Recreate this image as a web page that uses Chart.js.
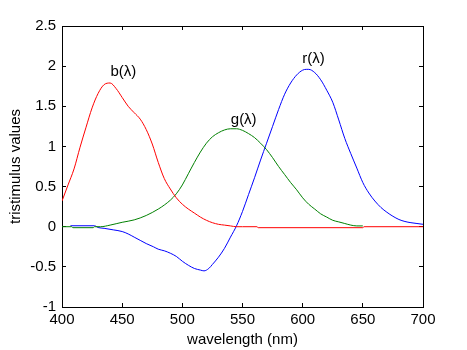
<!DOCTYPE html>
<html>
<head>
<meta charset="utf-8">
<script src="https://cdn.jsdelivr.net/npm/chart.js@4.4.1/dist/chart.umd.min.js"></script>
<style>
  html, body { margin: 0; padding: 0; background: #fff; }
  #wrap { width: 467px; height: 350px; }
</style>
</head>
<body>
<div id="wrap"><canvas id="c" width="467" height="350"></canvas></div>
<script>
// ------- data -------
const bWave = [400, 405, 410, 415, 420, 425, 430, 435, 440, 445, 450, 455, 460, 465, 470, 475, 480, 485, 490, 495,
  500, 505, 510, 515, 520, 525, 530, 535, 540, 545, 550, 562, 563, 650, 651, 700];
const bVals = [0.32, 0.52, 0.72, 0.99, 1.24, 1.48, 1.66, 1.77, 1.79, 1.72, 1.61, 1.50, 1.42, 1.34, 1.21, 1.03, 0.80, 0.60, 0.47, 0.36,
  0.28, 0.22, 0.17, 0.12, 0.08, 0.05, 0.03, 0.02, 0.01, 0.0, 0.0, 0.0, -0.012, -0.012, 0.0, 0.0];

const gWave = [400, 408, 409, 426, 427, 432, 440, 450, 460, 470, 480, 485, 490, 495, 500, 505, 510, 515, 520, 525,
  530, 535, 540, 545, 550, 555, 560, 565, 570, 575, 580, 585, 590, 595, 600, 605, 610, 615, 620, 625,
  630, 635, 640, 645, 650];
const gVals = [0.0, 0.0, -0.012, -0.012, 0.0, 0.0, 0.02, 0.055, 0.085, 0.14, 0.22, 0.27, 0.33, 0.41, 0.52, 0.66, 0.80, 0.93, 1.04, 1.12,
  1.17, 1.205, 1.22, 1.22, 1.20, 1.16, 1.11, 1.04, 0.96, 0.86, 0.75, 0.65, 0.55, 0.46, 0.36, 0.28, 0.22, 0.16, 0.12, 0.08,
  0.06, 0.04, 0.02, 0.01, 0.01];

const rWave = [407, 427, 430, 435, 443, 450, 455, 460, 465, 470, 476, 480, 485, 490, 495, 500, 505, 510, 515, 518,
  522, 525, 530, 535, 540, 545, 550, 555, 560, 565, 570, 575, 580, 585, 590, 595, 600, 603, 605, 610,
  615, 620, 625, 630, 635, 640, 645, 650, 655, 660, 665, 670, 675, 680, 685, 690, 695, 700];
const rVals = [0.012, 0.012, -0.01, -0.02, -0.04, -0.06, -0.09, -0.13, -0.17, -0.21, -0.25, -0.28, -0.30, -0.33, -0.37, -0.43, -0.48, -0.52, -0.54, -0.55,
  -0.52, -0.47, -0.38, -0.27, -0.13, 0.01, 0.19, 0.40, 0.61, 0.83, 1.04, 1.25, 1.46, 1.65, 1.79, 1.89, 1.95, 1.96, 1.96, 1.92,
  1.83, 1.70, 1.55, 1.33, 1.10, 0.91, 0.73, 0.55, 0.42, 0.32, 0.24, 0.18, 0.13, 0.09, 0.065, 0.05, 0.04, 0.03];

const curveLabels = ['b(λ)', 'g(λ)', 'r(λ)'];
const labelWave = [451, 551, 609];
const labelVal = [1.93, 1.33, 2.09];

const xTicks = [400, 450, 500, 550, 600, 650, 700];
const yTicks = [-1, -0.5, 0, 0.5, 1, 1.5, 2, 2.5];

const toPts = (xs, ys) => xs.map((x, i) => ({ x, y: ys[i] }));

Chart.defaults.font.family = '"Liberation Sans", Arial, sans-serif';
Chart.defaults.font.size = 15;
Chart.defaults.color = '#000';

// curve names, placed in data coordinates
const curveNames = {
  id: 'curveNames',
  afterDatasetsDraw(chart) {
    const { ctx } = chart;
    const xs = chart.scales.x, ys = chart.scales.y;
    ctx.save();
    ctx.fillStyle = '#000';
    ctx.font = '15px "Liberation Sans", Arial, sans-serif';
    ctx.textAlign = 'center';
    ctx.textBaseline = 'middle';
    curveLabels.forEach((t, i) => {
      ctx.fillText(t, xs.getPixelForValue(labelWave[i]), ys.getPixelForValue(labelVal[i]));
    });
    ctx.restore();
  }
};

const line = (data, color) => ({
  data, borderColor: color, borderWidth: 1, pointRadius: 0,
  cubicInterpolationMode: 'monotone', fill: false
});

// axis look: solid black border, short inward ticks (negative tick length), no grid
const edge = { display: true, color: '#000', width: 1 };
const inTicks = { display: true, drawOnChartArea: false, drawTicks: true, tickLength: -4, color: '#000', tickColor: '#000', lineWidth: 1 };

new Chart(document.getElementById('c'), {
  type: 'line',
  data: {
    datasets: [
      line(toPts(bWave, bVals), '#ff0000'),
      line(toPts(gWave, gVals), '#008000'),
      line(toPts(rWave, rVals), '#0000ff')
    ]
  },
  options: {
    responsive: false, animation: false,
    layout: { padding: 0 },
    plugins: { legend: { display: false }, tooltip: { enabled: false } },
    scales: {
      x: {
        type: 'linear', position: 'bottom', min: 400, max: 700,
        afterFit: s => { s.height = 43; },
        afterBuildTicks: s => { s.ticks = xTicks.map(value => ({ value })); },
        grid: inTicks, border: edge,
        ticks: { padding: 8, maxRotation: 0, callback: v => String(v) },
        title: { display: true, text: 'wavelength (nm)', padding: { top: 0, bottom: 1 }, font: { size: 15 } }
      },
      x2: {
        type: 'linear', position: 'top', min: 400, max: 700,
        afterFit: s => { s.height = 26; },
        afterBuildTicks: s => { s.ticks = xTicks.map(value => ({ value })); },
        grid: inTicks, border: edge,
        ticks: { display: false }
      },
      y: {
        type: 'linear', position: 'left', min: -1, max: 2.5,
        afterFit: s => { s.width = 62; },
        afterBuildTicks: s => { s.ticks = yTicks.map(value => ({ value })); },
        grid: inTicks, border: edge,
        ticks: { padding: 10, callback: v => String(Math.round(v * 10) / 10) },
        title: { display: true, text: 'tristimulus values', padding: { top: 7, bottom: 0 }, font: { size: 15 } }
      },
      y2: {
        type: 'linear', position: 'right', min: -1, max: 2.5,
        afterFit: s => { s.width = 44; },
        afterBuildTicks: s => { s.ticks = yTicks.map(value => ({ value })); },
        grid: inTicks, border: edge,
        ticks: { display: false }
      }
    }
  },
  plugins: [curveNames]
});
</script>
</body>
</html>
